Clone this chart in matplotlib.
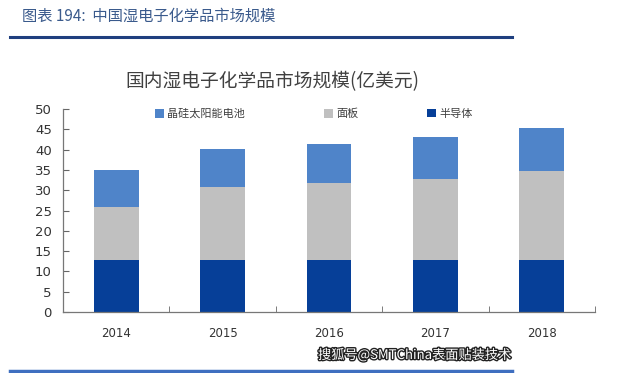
import matplotlib
matplotlib.use("Agg")
import matplotlib.pyplot as plt
import matplotlib.patheffects as pe
from matplotlib.patches import Patch
from matplotlib.lines import Line2D
import numpy as np

plt.rcParams['font.family'] = ['Noto Sans CJK SC', 'DejaVu Sans']

years = ['2014', '2015', '2016', '2017', '2018']
series_names = ['晶硅太阳能电池', '面板', '半导体']
semiconductor = [12.7, 12.7, 12.7, 12.7, 12.7]
panel = [13.1, 18.0, 19.1, 20.1, 22.0]
solar = [9.2, 9.4, 9.5, 10.4, 10.5]
yticks = [0, 5, 10, 15, 20, 25, 30, 35, 40, 45, 50]

c_solar = '#4F84C9'
c_panel = '#C0C0C0'
c_semi = '#063F98'

W, H = 640, 373
fig = plt.figure(figsize=(W / 100, H / 100), dpi=100)
fig.patch.set_facecolor('white')

ax = fig.add_axes([63 / W, (H - 312) / H, 532 / W, 203 / H])
x = np.arange(len(years))
bw = 0.42
semi_arr = np.array(semiconductor)
panel_arr = np.array(panel)
solar_arr = np.array(solar)
ax.bar(x, semi_arr, bw, color=c_semi, zorder=2)
ax.bar(x, panel_arr, bw, bottom=semi_arr, color=c_panel, zorder=2)
ax.bar(x, solar_arr, bw, bottom=semi_arr + panel_arr, color=c_solar, zorder=2)

ax.set_xlim(-0.5, len(years) - 0.5)
ax.set_ylim(0, 50)
ax.set_yticks(yticks)
ax.set_yticklabels([str(v) for v in yticks], fontsize=9.5, color='#333333', family='DejaVu Sans')
ax.set_xticks(x)
ax.set_xticklabels(years, fontsize=8.5, color='#333333', family='DejaVu Sans')
ax.set_xticks(np.arange(-0.5, len(years)), minor=True)
ax.tick_params(axis='x', which='major', length=0, pad=11)
ax.tick_params(axis='x', which='minor', direction='in', length=4, color='#666666')
ax.tick_params(axis='y', direction='in', length=4, color='#666666', pad=8)
for s in ['top', 'right']:
    ax.spines[s].set_visible(False)
for s in ['left', 'bottom']:
    ax.spines[s].set_color('#777777')
    ax.spines[s].set_linewidth(0.9)

# legends, one entry each
colors = [c_solar, c_panel, c_semi]
xpos = [155, 324, 427]
for name, col, xp in zip(series_names, colors, xpos):
    h = Patch(facecolor=col, edgecolor='none')
    leg = fig.legend([h], [name], loc='center left',
                     bbox_to_anchor=(xp / W, 1 - 114 / H), frameon=False,
                     fontsize=8, handlelength=0.8, handleheight=0.8,
                     handletextpad=0.3, borderpad=0, borderaxespad=0)
    for t in leg.get_texts():
        t.set_color('#404040')

# chart title
fig.text(272 / W, 1 - 82 / H, '国内湿电子化学品市场规模(亿美元)', fontsize=13.5,
         color='#404040', ha='center', va='center', fontweight='light')

# header
fig.text(22 / W, 1 - 16 / H, '图表 194:  中国湿电子化学品市场规模', fontsize=11,
         color='#3A5A8C', ha='left', va='center', style='italic')
fig.add_artist(Line2D([10 / W, 512 / W], [1 - 37 / H, 1 - 37 / H],
                      color='#1F3F7F', linewidth=2.2))
fig.add_artist(Line2D([10 / W, 512 / W], [1 - 371 / H, 1 - 371 / H],
                      color='#3F6FC0', linewidth=2.5))

# watermark
fig.text(512 / W, 1 - 355 / H, '搜狐号@SMTChina表面贴装技术', fontsize=9.5,
         color='white', ha='right', va='center',
         path_effects=[pe.withStroke(linewidth=2, foreground='#222222')])

fig.savefig('out.png', dpi=100, facecolor='white')
